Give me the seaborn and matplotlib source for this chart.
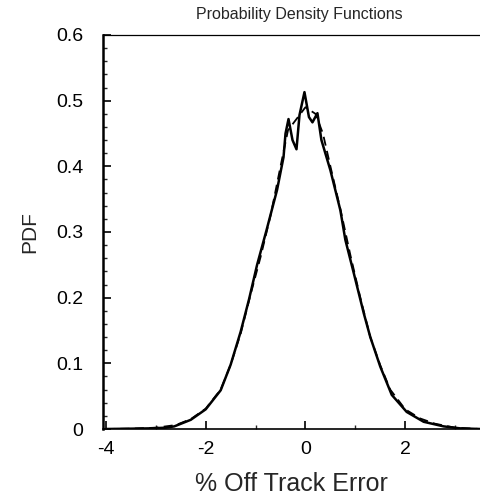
import matplotlib
matplotlib.use("Agg")
import matplotlib.pyplot as plt
import seaborn as sns
import pandas as pd
from matplotlib.ticker import MultipleLocator

# Solid curve (measured)
x_solid = [-4.0, -3.5, -3.1, -2.8, -2.63, -2.3, -2.0, -1.7, -1.5, -1.3, -1.13, -0.97,
           -0.78, -0.57, -0.44, -0.4, -0.34, -0.26, -0.18, -0.12, -0.02, 0.07, 0.14,
           0.24, 0.32, 0.5, 0.7, 0.8, 0.97, 1.17, 1.3, 1.5, 1.73, 2.03, 2.37, 2.77,
           3.1, 3.5]
y_solid = [0.0, 0.0005, 0.001, 0.002, 0.004, 0.014, 0.030, 0.059, 0.098, 0.148, 0.198,
           0.250, 0.303, 0.364, 0.414, 0.45, 0.472, 0.44, 0.426, 0.478, 0.513, 0.475,
           0.467, 0.481, 0.44, 0.394, 0.333, 0.288, 0.237, 0.176, 0.140, 0.095, 0.052,
           0.026, 0.011, 0.004, 0.001, 0.0]

# Dashed curve (fitted)
x_dashed = [-4.0, -3.5, -3.0, -2.6, -2.3, -2.0, -1.7, -1.5, -1.3, -1.1, -0.9, -0.7,
            -0.5, -0.35, -0.2, 0.0, 0.2, 0.35, 0.5, 0.7, 0.9, 1.1, 1.3, 1.5, 1.7,
            2.0, 2.3, 2.6, 3.0, 3.5]
y_dashed = [0.0, 0.0005, 0.002, 0.006, 0.015, 0.031, 0.060, 0.098, 0.145, 0.205,
            0.262, 0.325, 0.400, 0.455, 0.470, 0.490, 0.480, 0.450, 0.400, 0.335,
            0.265, 0.200, 0.140, 0.097, 0.060, 0.030, 0.016, 0.008, 0.002, 0.0]

title = "Probability Density Functions"
xlabel = "% Off Track Error"
ylabel = "PDF"

sns.set_style("white")
fam = ["Liberation Sans Narrow", "Liberation Sans", "DejaVu Sans"]
plt.rcParams["font.family"] = fam

fig = plt.figure(figsize=(4.8, 5.01), dpi=100)
ax = fig.add_axes([103 / 480, 72 / 501, 1 - 103 / 480, (429 - 35) / 501])

df_s = pd.DataFrame({"x": x_solid, "y": y_solid})
df_d = pd.DataFrame({"x": x_dashed, "y": y_dashed})
sns.lineplot(data=df_d, x="x", y="y", ax=ax, color="black", lw=1.3,
             linestyle=(0, (5, 3)), estimator=None, sort=False)
sns.lineplot(data=df_s, x="x", y="y", ax=ax, color="black", lw=1.8,
             estimator=None, sort=False)

ax.set_xlim(-4.06, 3.5)
ax.set_ylim(0, 0.6)
ax.xaxis.set_major_locator(MultipleLocator(2))
ax.xaxis.set_minor_locator(MultipleLocator(1))
ax.yaxis.set_major_locator(MultipleLocator(0.1))
ax.yaxis.set_minor_locator(MultipleLocator(0.02))
ax.set_xticks([-4, -2, 0, 2])
ax.set_xticklabels(["-4", "-2", "0", "2"])
ax.set_yticks([0, 0.1, 0.2, 0.3, 0.4, 0.5, 0.6])
ax.set_yticklabels(["0", "0.1", "0.2", "0.3", "0.4", "0.5", "0.6"])
ax.tick_params(axis="both", which="major", direction="in", length=6, width=1.2,
               labelsize=14, colors="black")
ax.tick_params(axis="y", which="major", pad=14)
ax.tick_params(axis="x", which="major", pad=9)
ax.tick_params(axis="both", which="minor", direction="in", length=3, width=1.0)
ax.tick_params(axis="x", which="both", bottom=True, top=False)
ax.tick_params(axis="y", which="both", left=True, right=False)

ax.spines["left"].set_linewidth(1.8)
ax.spines["left"].set_color("black")
ax.spines["bottom"].set_linewidth(1.2)
ax.spines["bottom"].set_color("black")
ax.spines["top"].set_linewidth(0.9)
ax.spines["top"].set_color("black")
ax.spines["right"].set_visible(False)

ax.set_xlabel(xlabel, fontsize=18, labelpad=10)
ax.set_ylabel(ylabel, fontsize=15, labelpad=12)
fig.text(299 / 480, 1 - 15 / 501, title, ha="center", va="center", fontsize=11.5)

fig.savefig("out.png", dpi=100)
